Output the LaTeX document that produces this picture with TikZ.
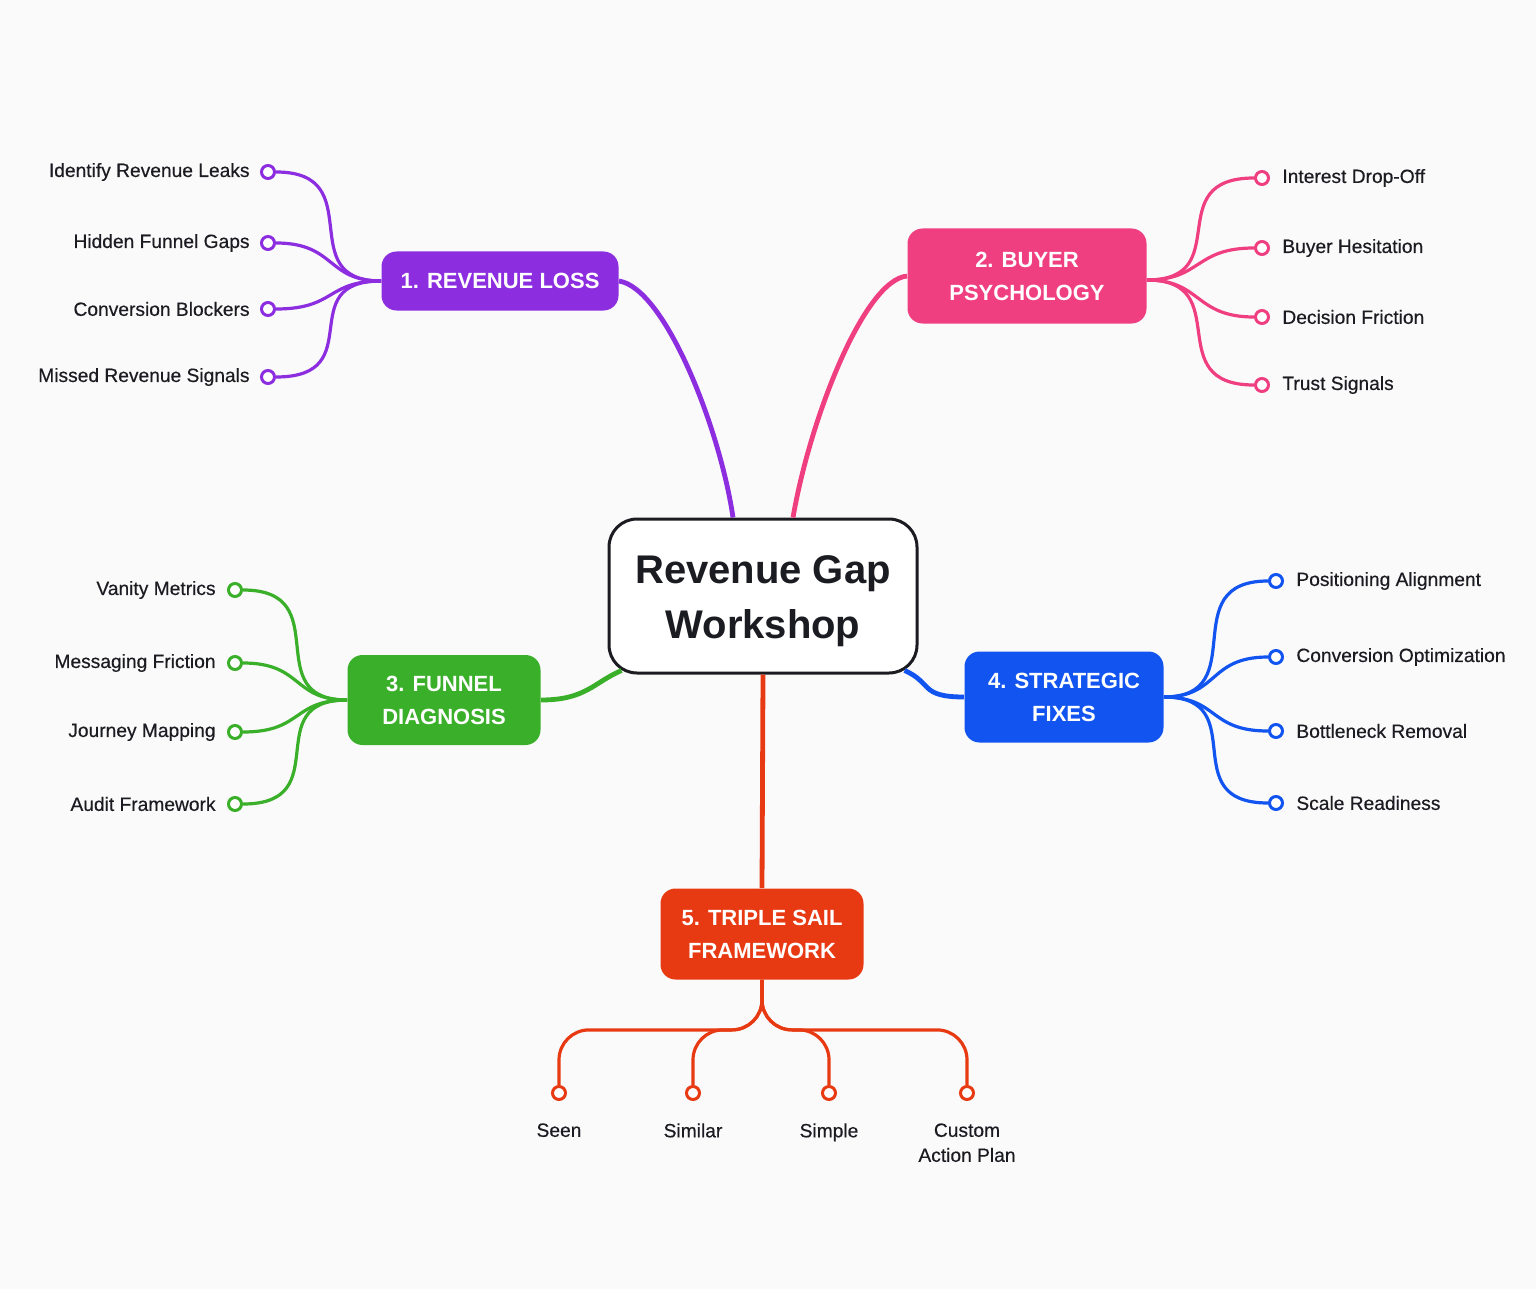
\documentclass[tikz,border=0pt]{standalone}
\usepackage{fontspec}
\setmainfont{Liberation Sans}
\newfontfamily\leaffont{Liberation Sans}[FakeBold=0.4]
\usepackage{tikz}
\usetikzlibrary{positioning}

\definecolor{ink}{HTML}{1B1B22}
\definecolor{paper}{HTML}{FAFAFA}
\definecolor{rlpurple}{HTML}{8C2DE0}
\definecolor{bppink}{HTML}{EF3F80}
\definecolor{fdgreen}{HTML}{3AAF29}
\definecolor{sfblue}{HTML}{1254F0}
\definecolor{tsred}{HTML}{E83A12}

\begin{document}
\begin{tikzpicture}[x=0.5pt,y=-0.5pt,
  branch/.style={rounded corners=7.5pt,text=white,align=center,inner sep=0pt,
    font=\fontsize{11}{16.5}\selectfont\bfseries},
  leaf/.style={circle,draw=#1,fill=white,line width=1.5pt,minimum size=6.5pt,inner sep=0pt},
  leaftext/.style={inner sep=0pt,text=ink,align=center,font=\leaffont\fontsize{9.6}{12.5}\selectfont},
  twig/.style={draw=#1,line width=1.6pt},
  limb/.style={draw=#1,line width=2.4pt}]

\useasboundingbox (0,0) rectangle (1536,1289);
\fill[paper] (0,0) rectangle (1536,1289);

\node[draw=ink,line width=1.5pt,fill=white,rounded corners=14pt,minimum width=154pt,
  minimum height=77pt,inner sep=0pt,align=center,text=ink,
  font=\fontsize{20}{27.5}\selectfont\bfseries] (c) at (763,596) {\rule{0pt}{19.5pt}Revenue Gap\\Workshop};

\node[branch,fill=rlpurple,minimum width=118.5pt,minimum height=29.5pt] (b1) at (500,281) {1. REVENUE LOSS};
\node[branch,fill=bppink,minimum width=119.5pt,minimum height=47.5pt] (b2) at (1027,276) {2. BUYER\\PSYCHOLOGY};
\node[branch,fill=fdgreen,minimum width=96.5pt,minimum height=45pt] (b3) at (444,700) {3. FUNNEL\\DIAGNOSIS};
\node[branch,fill=sfblue,minimum width=99.5pt,minimum height=45.5pt] (b4) at (1064,697) {4. STRATEGIC\\FIXES};
\node[branch,fill=tsred,minimum width=101.5pt,minimum height=45.5pt] (b5) at (762,934) {5. TRIPLE SAIL\\FRAMEWORK};

\draw[limb=rlpurple] (b1.east) .. controls +(46,7) and +(-13,-89) .. ([xshift=-15pt]c.north);
\draw[limb=bppink] ([xshift=15pt]c.north) .. controls +(17,-99) and +(-43,4) .. (b2.west);
\draw[limb=fdgreen] (b3.east) .. controls +(45,0) and +(-28,12) .. ([shift={(7pt,2pt)}]c.south west);
\draw[limb=sfblue] ([shift={(-7pt,2pt)}]c.south east) .. controls +(28,12) and +(-45,0) .. (b4.west);
\draw[limb=tsred] (c.south) -- (b5.north);

% 1. revenue loss
\node[leaf=rlpurple] (l1a) at (268,172) {};
\node[leaf=rlpurple] (l1b) at (268,243) {};
\node[leaf=rlpurple] (l1c) at (268,309) {};
\node[leaf=rlpurple] (l1d) at (268,377) {};
\node[leaftext,left=5pt of l1a] (t1a) {Identify Revenue Leaks};
\node[leaftext,left=5pt of l1b] (t1b) {Hidden Funnel Gaps};
\node[leaftext,left=5pt of l1c] (t1c) {Conversion Blockers};
\node[leaftext,left=5pt of l1d] (t1d) {Missed Revenue Signals};
\draw[twig=rlpurple] (b1.west) .. controls +(-90,0) and +(95,0) .. (l1a.east);
\draw[twig=rlpurple] (b1.west) .. controls +(-55,0) and +(60,0) .. (l1b.east);
\draw[twig=rlpurple] (b1.west) .. controls +(-55,0) and +(60,0) .. (l1c.east);
\draw[twig=rlpurple] (b1.west) .. controls +(-90,0) and +(95,0) .. (l1d.east);

% 2. buyer psychology
\node[leaf=bppink] (l2a) at (1262,178) {};
\node[leaf=bppink] (l2b) at (1262,248) {};
\node[leaf=bppink] (l2c) at (1262,317) {};
\node[leaf=bppink] (l2d) at (1262,385) {};
\node[leaftext,right=6pt of l2a] (t2a) {Interest Drop-Off};
\node[leaftext,right=6pt of l2b] (t2b) {Buyer Hesitation};
\node[leaftext,right=6pt of l2c] (t2c) {Decision Friction};
\node[leaftext,right=6pt of l2d] (t2d) {Trust Signals};
\draw[twig=bppink] ([yshift=-2pt]b2.east) .. controls +(90,0) and +(-95,0) .. (l2a.west);
\draw[twig=bppink] ([yshift=-2pt]b2.east) .. controls +(55,0) and +(-60,0) .. (l2b.west);
\draw[twig=bppink] ([yshift=-2pt]b2.east) .. controls +(55,0) and +(-60,0) .. (l2c.west);
\draw[twig=bppink] ([yshift=-2pt]b2.east) .. controls +(90,0) and +(-95,0) .. (l2d.west);

% 3. funnel diagnosis
\node[leaf=fdgreen] (l3a) at (235,590) {};
\node[leaf=fdgreen] (l3b) at (235,663) {};
\node[leaf=fdgreen] (l3c) at (235,732) {};
\node[leaf=fdgreen] (l3d) at (235,804) {};
\node[leaftext,left=5.5pt of l3a] (t3a) {Vanity Metrics};
\node[leaftext,left=5.5pt of l3b] (t3b) {Messaging Friction};
\node[leaftext,left=5.5pt of l3c] (t3c) {Journey Mapping};
\node[leaftext,left=5.5pt of l3d] (t3d) {Audit Framework};
\draw[twig=fdgreen] (b3.west) .. controls +(-90,0) and +(95,0) .. (l3a.east);
\draw[twig=fdgreen] (b3.west) .. controls +(-55,0) and +(60,0) .. (l3b.east);
\draw[twig=fdgreen] (b3.west) .. controls +(-55,0) and +(60,0) .. (l3c.east);
\draw[twig=fdgreen] (b3.west) .. controls +(-90,0) and +(95,0) .. (l3d.east);

% 4. strategic fixes
\node[leaf=sfblue] (l4a) at (1276,581) {};
\node[leaf=sfblue] (l4b) at (1276,657) {};
\node[leaf=sfblue] (l4c) at (1276,731) {};
\node[leaf=sfblue] (l4d) at (1276,803) {};
\node[leaftext,right=6pt of l4a] (t4a) {Positioning Alignment};
\node[leaftext,right=6pt of l4b] (t4b) {Conversion Optimization};
\node[leaftext,right=6pt of l4c] (t4c) {Bottleneck Removal};
\node[leaftext,right=6pt of l4d] (t4d) {Scale Readiness};
\draw[twig=sfblue] (b4.east) .. controls +(90,0) and +(-95,0) .. (l4a.west);
\draw[twig=sfblue] (b4.east) .. controls +(55,0) and +(-60,0) .. (l4b.west);
\draw[twig=sfblue] (b4.east) .. controls +(55,0) and +(-60,0) .. (l4c.west);
\draw[twig=sfblue] (b4.east) .. controls +(90,0) and +(-95,0) .. (l4d.west);

% 5. triple sail framework
\node[leaf=tsred] (l5a) at (559,1093) {};
\node[leaf=tsred] (l5b) at (693,1093) {};
\node[leaf=tsred] (l5c) at (829,1093) {};
\node[leaf=tsred] (l5d) at (967,1093) {};
\node[leaftext,below=11pt of l5a] (t5a) {Seen};
\node[leaftext,below=11pt of l5b] (t5b) {Similar};
\node[leaftext,below=11pt of l5c] (t5c) {Simple};
\node[leaftext,below=11pt of l5d] (t5d) {Custom\\Action Plan};
\draw[twig=tsred,rounded corners=15pt] (b5.south) -- ++(0,50) -| (l5a.north);
\draw[twig=tsred,rounded corners=15pt] (b5.south) -- ++(0,50) -| (l5b.north);
\draw[twig=tsred,rounded corners=15pt] (b5.south) -- ++(0,50) -| (l5c.north);
\draw[twig=tsred,rounded corners=15pt] (b5.south) -- ++(0,50) -| (l5d.north);

\end{tikzpicture}
\end{document}
